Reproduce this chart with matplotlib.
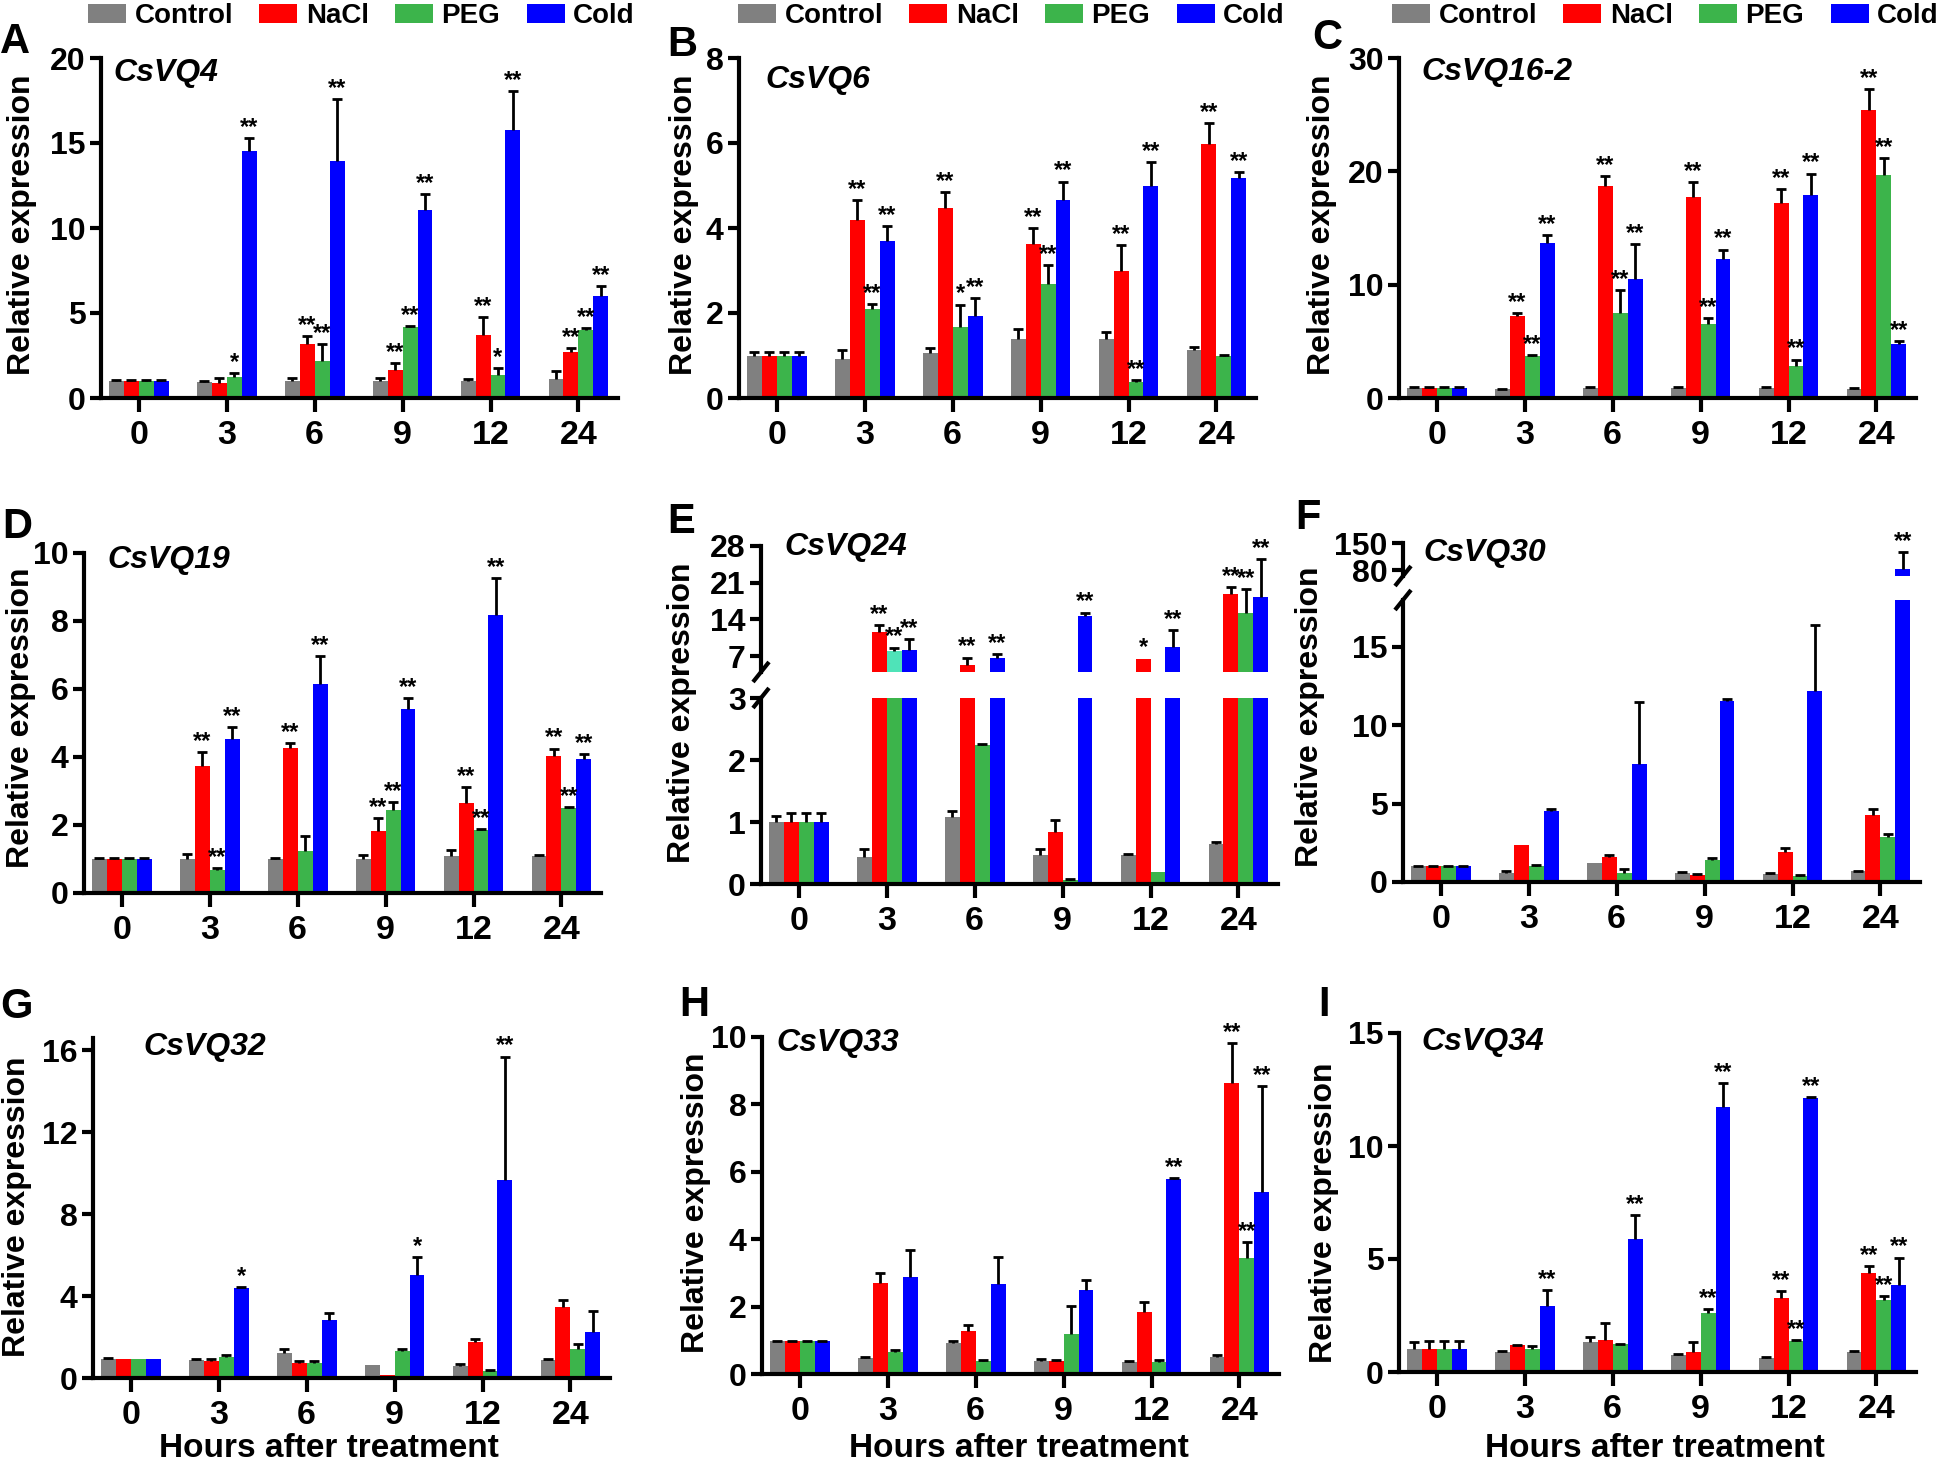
import numpy as np
import matplotlib
matplotlib.use("Agg")
import matplotlib.pyplot as plt
from matplotlib.patches import Patch

plt.rcParams['font.family'] = ['Liberation Sans', 'DejaVu Sans']
plt.rcParams['font.weight'] = 'bold'
plt.rcParams['axes.labelweight'] = 'bold'

times = ['0', '3', '6', '9', '12', '24']
treatments = ['Control', 'NaCl', 'PEG', 'Cold']
colors = ['#808080', '#ff0000', '#3cb44b', '#0000ff']

# rows: Control, NaCl, PEG, Cold ; columns: 0, 3, 6, 9, 12, 24 h
vq4_mean = [[1.0, 0.93, 1.0, 1.0, 1.0, 1.12],
            [1.0, 0.9, 3.2, 1.65, 3.73, 2.73],
            [1.0, 1.23, 2.2, 4.18, 1.35, 4.02],
            [1.0, 14.55, 13.95, 11.06, 15.75, 6.02]]
vq4_err = [[0.05, 0.05, 0.15, 0.15, 0.1, 0.48],
           [0.05, 0.28, 0.43, 0.41, 1.02, 0.21],
           [0.05, 0.24, 0.98, 0.04, 0.4, 0.1],
           [0.05, 0.75, 3.65, 0.92, 2.3, 0.58]]
vq4_sig = [['', '', '', '', '', ''],
           ['', '', '**', '**', '**', '**'],
           ['', '*', '**', '**', '*', '**'],
           ['', '**', '**', '**', '**', '**']]

vq6_mean = [[1.0, 0.92, 1.06, 1.38, 1.38, 1.13],
            [1.0, 4.18, 4.46, 3.62, 2.99, 5.97],
            [1.0, 2.1, 1.66, 2.68, 0.37, 1.0],
            [1.0, 3.7, 1.93, 4.67, 4.98, 5.17]]
vq6_err = [[0.08, 0.21, 0.12, 0.24, 0.17, 0.07],
           [0.08, 0.47, 0.39, 0.37, 0.6, 0.5],
           [0.08, 0.11, 0.54, 0.44, 0.05, 0.02],
           [0.08, 0.34, 0.43, 0.42, 0.57, 0.14]]
vq6_sig = [['', '', '', '', '', ''],
           ['', '**', '**', '**', '**', '**'],
           ['', '**', '*', '**', '**', ''],
           ['', '**', '**', '**', '**', '**']]

vq16_mean = [[0.88, 0.77, 0.88, 0.91, 0.88, 0.8],
             [0.88, 7.26, 18.7, 17.76, 17.2, 25.37],
             [0.88, 3.75, 7.49, 6.52, 2.8, 19.7],
             [0.88, 13.7, 10.5, 12.3, 17.9, 4.75]]
vq16_err = [[0.1, 0.05, 0.1, 0.1, 0.08, 0.05],
            [0.1, 0.26, 0.9, 1.32, 1.2, 1.89],
            [0.1, 0.05, 2.0, 0.56, 0.59, 1.45],
            [0.1, 0.7, 3.07, 0.8, 1.9, 0.29]]
vq16_sig = [['', '', '', '', '', ''],
            ['', '**', '**', '**', '**', '**'],
            ['', '**', '**', '**', '**', '**'],
            ['', '**', '**', '**', '**', '**']]

vq19_mean = [[1.0, 1.01, 1.0, 1.0, 1.1, 1.08],
             [1.0, 3.73, 4.27, 1.81, 2.66, 4.04],
             [1.0, 0.67, 1.23, 2.45, 1.84, 2.51],
             [1.0, 4.52, 6.16, 5.42, 8.19, 3.95]]
vq19_err = [[0.02, 0.15, 0.02, 0.12, 0.17, 0.04],
            [0.02, 0.42, 0.14, 0.39, 0.46, 0.21],
            [0.02, 0.07, 0.45, 0.23, 0.04, 0.02],
            [0.02, 0.36, 0.81, 0.31, 1.07, 0.14]]
vq19_sig = [['', '', '', '', '', ''],
            ['', '**', '**', '**', '**', '**'],
            ['', '**', '', '**', '**', '**'],
            ['', '**', '**', '**', '**', '**']]

vq24_mean = [[1.0, 0.44, 1.08, 0.47, 0.47, 0.65],
             [1.0, 11.6, 5.3, 0.84, 6.5, 18.8],
             [1.0, 7.9, 2.24, 0.06, 0.2, 15.2],
             [1.0, 8.2, 6.6, 14.6, 8.8, 18.3]]
vq24_err = [[0.1, 0.13, 0.09, 0.09, 0.01, 0.03],
            [0.14, 1.3, 1.4, 0.2, 0.0, 1.4],
            [0.14, 0.7, 0.02, 0.02, 0.0, 4.5],
            [0.14, 2.0, 0.8, 0.7, 3.1, 7.2]]
vq24_sig = [['', '', '', '', '', ''],
            ['', '**', '**', '', '*', '**'],
            ['', '**', '', '', '', '**'],
            ['', '**', '**', '**', '**', '**']]

vq30_mean = [[1.0, 0.6, 1.2, 0.57, 0.5, 0.68],
             [1.0, 2.38, 1.6, 0.43, 1.91, 4.25],
             [1.0, 1.04, 0.57, 1.38, 0.4, 2.87],
             [1.0, 4.55, 7.55, 11.57, 12.2, 82.6]]
vq30_err = [[0.04, 0.1, 0.0, 0.08, 0.05, 0.04],
            [0.04, 0.0, 0.1, 0.07, 0.29, 0.43],
            [0.04, 0.06, 0.26, 0.12, 0.05, 0.21],
            [0.04, 0.1, 3.92, 0.08, 4.2, 44.0]]
vq30_sig = [['', '', '', '', '', ''],
            ['', '', '', '', '', ''],
            ['', '', '', '', '', ''],
            ['', '', '', '', '', '**']]

vq32_mean = [[0.94, 0.86, 1.24, 0.65, 0.6, 0.86],
             [0.94, 0.85, 0.75, 0.16, 1.74, 3.45],
             [0.94, 1.04, 0.75, 1.34, 0.34, 1.43],
             [0.94, 4.4, 2.85, 5.05, 9.69, 2.26]]
vq32_err = [[0.06, 0.05, 0.19, 0.0, 0.1, 0.05],
            [0.0, 0.06, 0.1, 0.0, 0.16, 0.38],
            [0.0, 0.06, 0.1, 0.1, 0.06, 0.25],
            [0.0, 0.05, 0.31, 0.85, 6.0, 1.0]]
vq32_sig = [['', '', '', '', '', ''],
            ['', '', '', '', '', ''],
            ['', '', '', '', '', ''],
            ['', '*', '', '*', '**', '']]

vq33_mean = [[0.97, 0.46, 0.91, 0.4, 0.36, 0.51],
             [0.97, 2.7, 1.29, 0.39, 1.84, 8.63],
             [0.97, 0.66, 0.38, 1.2, 0.35, 3.45],
             [0.97, 2.88, 2.67, 2.48, 5.79, 5.41]]
vq33_err = [[0.02, 0.04, 0.06, 0.05, 0.04, 0.04],
            [0.02, 0.3, 0.16, 0.02, 0.29, 1.2],
            [0.02, 0.04, 0.03, 0.83, 0.07, 0.46],
            [0.02, 0.81, 0.81, 0.3, 0.03, 3.13]]
vq33_sig = [['', '', '', '', '', ''],
            ['', '', '', '', '', '**'],
            ['', '', '', '', '', '**'],
            ['', '', '', '', '**', '**']]

vq34_mean = [[1.0, 0.88, 1.33, 0.77, 0.62, 0.88],
             [1.0, 1.19, 1.43, 0.9, 3.29, 4.38],
             [1.0, 1.03, 1.22, 2.61, 1.39, 3.2],
             [1.0, 2.92, 5.87, 11.73, 12.12, 3.86]]
vq34_err = [[0.33, 0.03, 0.22, 0.03, 0.03, 0.04],
            [0.36, 0.02, 0.75, 0.41, 0.29, 0.3],
            [0.36, 0.14, 0.03, 0.16, 0.01, 0.15],
            [0.36, 0.69, 1.09, 1.04, 0.03, 1.2]]
vq34_sig = [['', '', '', '', '', ''],
            ['', '', '', '', '**', '**'],
            ['', '', '', '**', '**', '**'],
            ['', '**', '**', '**', '**', '**']]

W, H = 1952, 1461
AX_W = 517
BW = 0.17
fig = plt.figure(figsize=(W / 100, H / 100), dpi=100)


def make_ax(left, top, bottom):
    return fig.add_axes([left / W, 1 - bottom / H, AX_W / W, (bottom - top) / H])


def style_ax(ax, ylim, yticks, xaxis=True):
    ax.set_xlim(-0.43, 5.45)
    ax.set_ylim(ylim)
    ax.set_yticks(yticks)
    ax.spines[['top', 'right']].set_visible(False)
    ax.spines['left'].set_linewidth(3)
    ax.spines['left'].set_capstyle('projecting')
    ax.tick_params(axis='y', length=8, width=3, labelsize=23, pad=3)
    if xaxis:
        ax.spines['bottom'].set_linewidth(3)
        ax.set_xticks(np.arange(len(times)))
        ax.set_xticklabels(times)
        ax.tick_params(axis='x', length=10, width=3, labelsize=24.5, pad=6)
    else:
        ax.spines['bottom'].set_visible(False)
        ax.set_xticks([])
    ax.patch.set_alpha(0)


def draw_bars(ax, means, errs, sig, recolor=None):
    lo, hi = ax.get_ylim()
    x = np.arange(len(times))
    for k in range(4):
        xs = x + (k - 1.5) * BW
        m = np.array(means[k])
        e = np.array(errs[k])
        cols = [colors[k]] * len(times)
        if recolor:
            for (kk, i), c in recolor.items():
                if kk == k:
                    cols[i] = c
        ax.bar(xs, m, width=BW, color=cols, linewidth=0, zorder=2)
        vis = (m > lo) & (m <= hi)
        show = vis & (e > 0)
        if show.any():
            eb = ax.errorbar(xs[show], m[show], yerr=[np.zeros(show.sum()), e[show]],
                             fmt='none', ecolor='black', elinewidth=2,
                             capsize=3.5, capthick=2, zorder=3)
            eb[1][0].set_visible(False)
        for i in range(len(times)):
            if sig[k][i] and vis[i]:
                ax.annotate(sig[k][i], (xs[i], m[i] + e[i]), xytext=(0, 3),
                            textcoords='offset points', ha='center', va='baseline',
                            fontsize=17, annotation_clip=False)


def slash(ax, yfrac, h_px):
    dx = 8 / AX_W
    dy = 10 / h_px
    ax.plot([-dx, dx], [yfrac - dy, yfrac + dy], transform=ax.transAxes,
            color='black', lw=3, clip_on=False, solid_capstyle='butt')


def gene_label(x, y, name):
    fig.text(x / W, 1 - y / H, name, style='italic', fontsize=23, va='top', ha='left')


def letter(x, y, s):
    fig.text(x / W, 1 - y / H, s, fontsize=30, va='top', ha='left')


def ylab(x, y):
    fig.text(x / W, 1 - y / H, 'Relative expression', rotation=90,
             ha='center', va='center', fontsize=23)


simple_panels = [
    ('A', 'CsVQ4', vq4_mean, vq4_err, vq4_sig, (0, 20), [0, 5, 10, 15, 20],
     101, 58, 398, (113, 58), (0, 22), (22, 225)),
    ('B', 'CsVQ6', vq6_mean, vq6_err, vq6_sig, (0, 8), [0, 2, 4, 6, 8],
     739, 58, 398, (765, 65), (667, 25), (684, 225)),
    ('C', 'CsVQ16-2', vq16_mean, vq16_err, vq16_sig, (0, 30), [0, 10, 20, 30],
     1399, 58, 398, (1421, 57), (1312, 18), (1322, 225)),
    ('D', 'CsVQ19', vq19_mean, vq19_err, vq19_sig, (0, 10), [0, 2, 4, 6, 8, 10],
     84, 553, 893, (107, 545), (2, 507), (21, 718)),
    ('G', 'CsVQ32', vq32_mean, vq32_err, vq32_sig, (0, 16.6), [0, 4, 8, 12, 16],
     93, 1038, 1378, (143, 1032), (0, 987), (17, 1207)),
    ('H', 'CsVQ33', vq33_mean, vq33_err, vq33_sig, (0, 10), [0, 2, 4, 6, 8, 10],
     762, 1037, 1374, (776, 1028), (679, 985), (696, 1203)),
    ('I', 'CsVQ34', vq34_mean, vq34_err, vq34_sig, (0, 15), [0, 5, 10, 15],
     1399, 1033, 1372, (1421, 1027), (1318, 985), (1324, 1213)),
]

for (let, gene, mean, err, sig, ylim, yt, left, top, bottom, gpos, lpos, ypos) in simple_panels:
    ax = make_ax(left, top, bottom)
    style_ax(ax, ylim, yt)
    draw_bars(ax, mean, err, sig)
    ylab(*ypos)
    gene_label(*gpos, gene)
    letter(*lpos, let)

# E: CsVQ24 with broken y axis
axE_lo = make_ax(761, 698, 884)
style_ax(axE_lo, (0, 3), [0, 1, 2, 3])
draw_bars(axE_lo, vq24_mean, vq24_err, vq24_sig)
axE_hi = make_ax(761, 546, 672)
style_ax(axE_hi, (3.95, 28), [7, 14, 21, 28], xaxis=False)
draw_bars(axE_hi, vq24_mean, vq24_err, vq24_sig, recolor={(2, 1): '#4fe3b8'})
slash(axE_lo, 1.0, 884 - 698)
slash(axE_hi, 0.0, 672 - 546)
ylab(682, 713)
gene_label(784, 532, 'CsVQ24')
letter(667, 502, 'E')

# F: CsVQ30 with broken y axis
axF_lo = make_ax(1403, 600, 882)
style_ax(axF_lo, (0, 18), [0, 5, 10, 15])
draw_bars(axF_lo, vq30_mean, vq30_err, vq30_sig)
axF_hi = make_ax(1403, 543, 576)
style_ax(axF_hi, (64.5, 150), [80, 150], xaxis=False)
draw_bars(axF_hi, vq30_mean, vq30_err, vq30_sig)
slash(axF_lo, 1.0, 882 - 600)
slash(axF_hi, 0.0, 576 - 543)
ylab(1310, 717)
gene_label(1423, 538, 'CsVQ30')
letter(1295, 498, 'F')

# legends on top of each column
handles = [Patch(facecolor=c, edgecolor='none') for c in colors]
for lx in [88, 738, 1392]:
    fig.legend(handles, treatments, loc='upper left', bbox_to_anchor=(lx / W, 1 - 3 / H),
               ncol=4, frameon=False, prop={'size': 20, 'weight': 'bold'},
               handlelength=1.37, handleheight=0.65, handletextpad=0.3,
               columnspacing=0.95, borderpad=0, borderaxespad=0)

for cx in [329, 1019, 1655]:
    fig.text(cx / W, 4 / H, 'Hours after treatment', ha='center', va='baseline',
             fontsize=24)

fig.savefig('out.png', dpi=100, facecolor='white')
